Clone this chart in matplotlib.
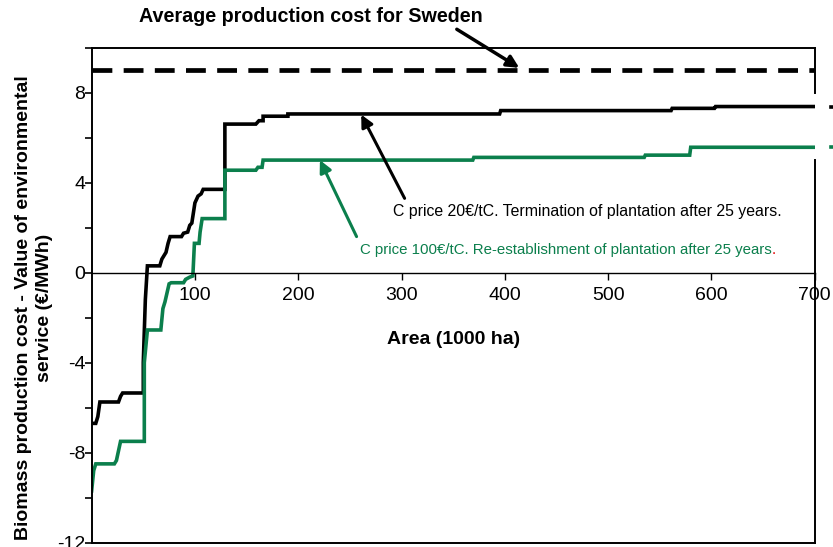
import matplotlib
matplotlib.use("Agg")
import matplotlib.pyplot as plt
from matplotlib.ticker import MultipleLocator

plt.rcParams['font.family'] = ['Liberation Sans', 'DejaVu Sans']
plt.rcParams['axes.unicode_minus'] = False

# Black curve: C price 20 EUR/tC, termination after 25 years
black_x = [0, 4, 6, 8, 26, 28, 30, 50, 50, 52, 54, 66, 68, 72, 74, 76, 87, 89, 93, 95,
           97, 99, 100, 103, 106, 108, 129, 129, 159, 162, 166, 166, 190, 190, 395, 396,
           561, 562, 603, 604, 700]
black_y = [-6.7, -6.7, -6.4, -5.75, -5.75, -5.5, -5.35, -5.35, -4.0, -1.2, 0.3, 0.3, 0.6,
           0.9, 1.3, 1.6, 1.6, 1.75, 1.8, 2.1, 2.2, 2.8, 3.1, 3.4, 3.5, 3.7, 3.7, 6.6, 6.6,
           6.75, 6.75, 6.95, 6.95, 7.05, 7.05, 7.2, 7.2, 7.3, 7.3, 7.38, 7.38]

# Green curve: C price 100 EUR/tC, re-establishment after 25 years
green_x = [0, 2, 4, 22, 24, 28, 51, 51, 54, 67, 69, 71, 75, 77, 89, 91, 95, 98, 99.5,
           104, 105, 107, 129, 129, 159, 161, 165, 166, 369, 370, 535, 536, 579, 580, 700]
green_y = [-9.7, -8.8, -8.5, -8.5, -8.35, -7.5, -7.5, -4.0, -2.55, -2.55, -1.6, -1.3, -0.5,
           -0.45, -0.45, -0.3, -0.2, -0.15, 1.3, 1.3, 1.8, 2.4, 2.4, 4.55, 4.55, 4.68, 4.68,
           5.0, 5.0, 5.12, 5.12, 5.22, 5.22, 5.57, 5.57]

sweden_avg = 9.0
x_ticks = [100, 200, 300, 400, 500, 600, 700]
y_ticks = [-12, -8, -4, 0, 4, 8]

green = '#0B7F4C'

fig = plt.figure(figsize=(8.33, 5.47), dpi=100)
ax = fig.add_axes([0.110, 0.008, 0.868, 0.905])

ax.plot(black_x, black_y, color='black', lw=2.6, solid_joinstyle='miter')
ax.plot(green_x, green_y, color=green, lw=2.6, solid_joinstyle='miter')
ax.axhline(sweden_avg, color='black', lw=3.4, dashes=(4.2, 2.4))

# little stubs of the curves peeking out past the frame
ax.plot([716, 722], [black_y[-1]] * 2, color='black', lw=2.6, clip_on=False)
ax.plot([716, 722], [green_y[-1]] * 2, color=green, lw=2.6, clip_on=False)

ax.set_xlim(0, 700)
ax.set_ylim(-12, 10)

# y axis
ax.set_yticks(y_ticks)
ax.yaxis.set_minor_locator(MultipleLocator(2))
ax.tick_params(axis='y', which='both', direction='out', length=5, width=1.2,
               labelsize=14, pad=-0.5)

# x axis sits at y = 0, frame drawn around the whole plot
ax.spines['bottom'].set_position(('data', 0))
ax.spines['bottom'].set_linewidth(1.0)
ax.set_xticks(x_ticks)
ax.tick_params(axis='x', direction='out', length=5, width=1.0, labelsize=14, pad=5.5)
ax.set_xlabel('Area (1000 ha)', fontsize=14, fontweight='bold', labelpad=19)

for s in ['left', 'top']:
    ax.spines[s].set_linewidth(1.4)
ax.spines['right'].set_visible(False)
ax.plot([0, 1], [0, 0], transform=ax.transAxes, color='black', lw=1.4, clip_on=False)
# right frame drawn with a gap where the curves leave the plot
ax.plot([1, 1], [1, (8.0 + 12) / 22], transform=ax.transAxes, color='black',
        lw=1.4, clip_on=False)
ax.plot([1, 1], [(5.0 + 12) / 22, 0], transform=ax.transAxes, color='black',
        lw=1.4, clip_on=False)

fig.text(34 / 833, 1 - 308 / 547,
         'Biomass production cost - Value of environmental\nservice (\u20ac/MWh)',
         rotation=90, ha='center', va='center', multialignment='center',
         fontsize=14, fontweight='bold', linespacing=1.3)

ax.annotate('Average production cost for Sweden', xy=(414, 9.1), xytext=(46, 11.36),
            fontsize=14.2, fontweight='bold', va='center', ha='left',
            annotation_clip=False,
            arrowprops=dict(arrowstyle='-|>', color='black', lw=2.5, mutation_scale=18,
                            shrinkA=0, shrinkB=0, relpos=(0.92, -0.1)))

ax.text(292, 2.7, 'C price 20\u20ac/tC. Termination of plantation after 25 years.',
        fontsize=11.4, va='center', ha='left')
ax.annotate('', xy=(261, 7.02), xytext=(303, 3.3),
            arrowprops=dict(arrowstyle='-|>', color='black', lw=2.2, mutation_scale=18,
                            shrinkA=0, shrinkB=0))

t = ax.text(259.5, 1.0, 'C price 100\u20ac/tC. Re-establishment of plantation after 25 years',
            fontsize=10.85, va='center', ha='left', color=green)
ax.annotate('', xy=(221, 5.0), xytext=(256.5, 1.6),
            arrowprops=dict(arrowstyle='-|>', color=green, lw=2.2, mutation_scale=18,
                            shrinkA=0, shrinkB=0))
ax.annotate('.', xy=(1, 0), xycoords=t, xytext=(0, 0), textcoords='offset points',
            ha='left', va='bottom', fontsize=10.85, color='#e00000')

fig.savefig('out.png', dpi=100)
